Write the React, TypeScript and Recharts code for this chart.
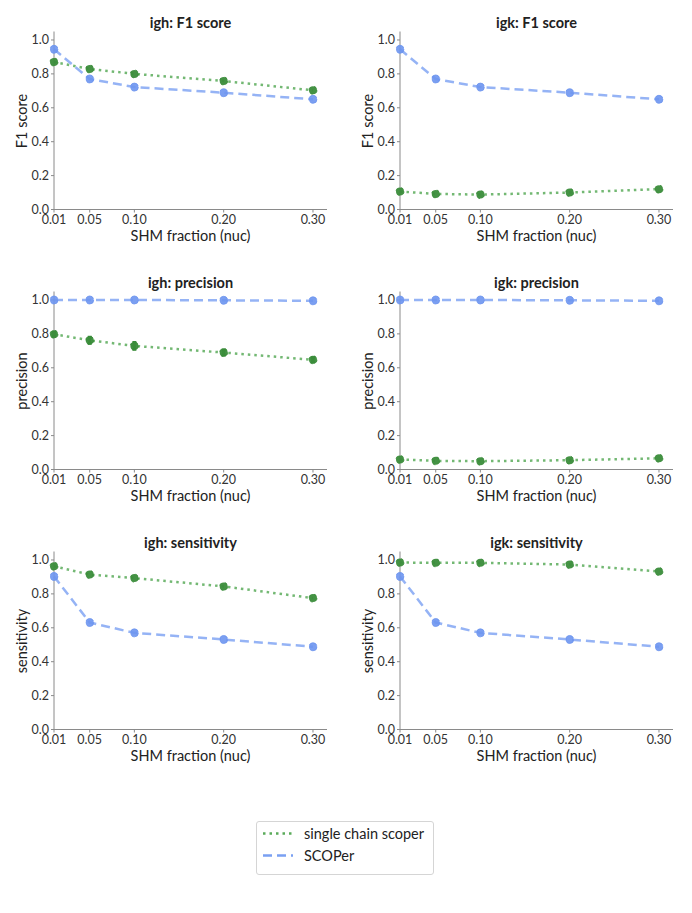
import React from "react";
import { LineChart, Line, XAxis, YAxis, ErrorBar } from "recharts";

const shm = [0.01, 0.05, 0.1, 0.2, 0.3];
const xTicks = [0.01, 0.05, 0.1, 0.2, 0.3];
const yTicks = [0, 0.2, 0.4, 0.6, 0.8, 1.0];
const seriesNames = ["single chain scoper", "SCOPer"];

const ighF1Single = [0.87, 0.829, 0.8, 0.758, 0.703];
const ighF1Scoper = [0.945, 0.77, 0.722, 0.689, 0.65];
const igkF1Single = [0.106, 0.092, 0.088, 0.1, 0.12];
const igkF1Scoper = [0.945, 0.77, 0.722, 0.689, 0.65];
const ighPrecSingle = [0.798, 0.762, 0.729, 0.69, 0.647];
const ighPrecSingleErr = [0.012, 0.018, 0.02, 0.015, 0.012];
const ighPrecScoper = [1.0, 1.0, 1.0, 0.998, 0.995];
const igkPrecSingle = [0.059, 0.051, 0.049, 0.055, 0.066];
const igkPrecScoper = [1.0, 1.0, 1.0, 0.998, 0.995];
const ighSensSingle = [0.963, 0.914, 0.893, 0.844, 0.775];
const ighSensScoper = [0.903, 0.631, 0.57, 0.531, 0.488];
const igkSensSingle = [0.985, 0.983, 0.983, 0.973, 0.932];
const igkSensScoper = [0.903, 0.631, 0.57, 0.531, 0.488];

const GREEN_LINE = "#5aab5a";
const GREEN_DOT = "#3a8c3a";
const BLUE_LINE = "#7aa0f2";
const BLUE_DOT = "#6d95ef";
const FONT = "Lato, 'Open Sans', sans-serif";

type Panel = {
  title: string;
  ylabel: string;
  single: number[];
  scoper: number[];
  err?: number[];
};

const panels: Panel[] = [
  { title: "igh: F1 score", ylabel: "F1 score", single: ighF1Single, scoper: ighF1Scoper },
  { title: "igk: F1 score", ylabel: "F1 score", single: igkF1Single, scoper: igkF1Scoper },
  { title: "igh: precision", ylabel: "precision", single: ighPrecSingle, scoper: ighPrecScoper, err: ighPrecSingleErr },
  { title: "igk: precision", ylabel: "precision", single: igkPrecSingle, scoper: igkPrecScoper },
  { title: "igh: sensitivity", ylabel: "sensitivity", single: ighSensSingle, scoper: ighSensScoper },
  { title: "igk: sensitivity", ylabel: "sensitivity", single: igkSensSingle, scoper: igkSensScoper },
];

const PW = 346;
const PH = 260;
const PLOT_L = 54;
const PLOT_R = 327;
const PLOT_T = 31.5;
const PLOT_B = 209.5;

function PanelChart({ p }: { p: Panel }) {
  const data = shm.map((x, i) => ({
    x,
    single: p.single[i],
    scoper: p.scoper[i],
    err: p.err ? p.err[i] : 0,
  }));
  const tick = { fill: "#333", fontSize: 12.5, fontFamily: FONT };
  return (
    <LineChart
      width={PW}
      height={PH}
      data={data}
      margin={{ left: PLOT_L - 40, right: PW - PLOT_R, top: PLOT_T, bottom: PH - PLOT_B - 30 }}
    >
      <XAxis
        type="number"
        dataKey="x"
        domain={[0.01, 0.3157]}
        ticks={xTicks}
        tickFormatter={(v: number) => v.toFixed(2)}
        height={30}
        tick={tick}
        tickSize={3}
        tickMargin={3}
        stroke="#8a8a8a"
        interval={0}
      />
      <YAxis
        type="number"
        domain={[0, 1.05]}
        ticks={yTicks}
        tickFormatter={(v: number) => v.toFixed(1)}
        width={40}
        tick={tick}
        tickSize={3}
        tickMargin={2}
        stroke="#8a8a8a"
        interval={0}
      />
      <Line
        dataKey="single"
        name={seriesNames[0]}
        stroke={GREEN_LINE}
        strokeOpacity={0.85}
        strokeWidth={2.5}
        strokeDasharray="2.5 4"
        dot={{ r: 4, fill: GREEN_DOT, stroke: GREEN_DOT, strokeWidth: 1, fillOpacity: 0.95 }}
        isAnimationActive={false}
      >
        {p.err ? <ErrorBar dataKey="err" direction="y" width={2} stroke={GREEN_DOT} strokeWidth={3} /> : null}
      </Line>
      <Line
        dataKey="scoper"
        name={seriesNames[1]}
        stroke={BLUE_LINE}
        strokeOpacity={0.8}
        strokeWidth={2.5}
        strokeDasharray="9 5"
        dot={{ r: 4, fill: BLUE_DOT, stroke: BLUE_DOT, strokeWidth: 1, fillOpacity: 0.9 }}
        isAnimationActive={false}
      />
    </LineChart>
  );
}

export default function App() {
  return (
    <div
      style={{
        position: "absolute",
        left: 0,
        top: 0,
        width: 692,
        height: 913,
        background: "#fff",
        fontFamily: FONT,
        color: "#222",
      }}
    >
      {panels.map((p, i) => {
        const col = i % 2;
        const row = Math.floor(i / 2);
        const left = col * PW;
        const top = row * PH;
        const cx = (PLOT_L + PLOT_R) / 2;
        const cy = (PLOT_T + PLOT_B) / 2;
        return (
          <div key={i} style={{ position: "absolute", left, top, width: PW, height: PH }}>
            <PanelChart p={p} />
            <div
              style={{
                position: "absolute",
                left: cx - 150,
                width: 300,
                top: 13,
                textAlign: "center",
                fontSize: 14.5,
                fontWeight: 700,
                lineHeight: "20px",
                color: "#222",
              }}
            >
              {p.title}
            </div>
            <div
              style={{
                position: "absolute",
                left: cx - 150,
                width: 300,
                top: 226,
                textAlign: "center",
                fontSize: 14.5,
                lineHeight: "20px",
                color: "#222",
              }}
            >
              SHM fraction (nuc)
            </div>
            <div
              style={{
                position: "absolute",
                left: 22 - 100,
                top: cy - 10,
                width: 200,
                height: 20,
                textAlign: "center",
                fontSize: 14.5,
                lineHeight: "20px",
                transform: "rotate(-90deg)",
                color: "#222",
              }}
            >
              {p.ylabel}
            </div>
          </div>
        );
      })}
      <div
        style={{
          position: "absolute",
          left: 256,
          top: 821,
          width: 178,
          height: 54,
          border: "1px solid #d5d5d5",
          borderRadius: 3,
          boxSizing: "border-box",
        }}
      >
        <svg width={40} height={54} style={{ position: "absolute", left: 0, top: 0 }}>
          <line x1={6} x2={36} y1={11.5} y2={11.5} stroke={GREEN_LINE} strokeWidth={2.5} strokeDasharray="2.5 4" />
          <line x1={6} x2={36} y1={33.5} y2={33.5} stroke={BLUE_LINE} strokeWidth={2.5} strokeDasharray="9 5" />
        </svg>
        <div style={{ position: "absolute", left: 47, top: 2, fontSize: 14.5, lineHeight: "20px", color: "#222" }}>
          {seriesNames[0]}
        </div>
        <div style={{ position: "absolute", left: 47, top: 24, fontSize: 14.5, lineHeight: "20px", color: "#222" }}>
          {seriesNames[1]}
        </div>
      </div>
    </div>
  );
}
